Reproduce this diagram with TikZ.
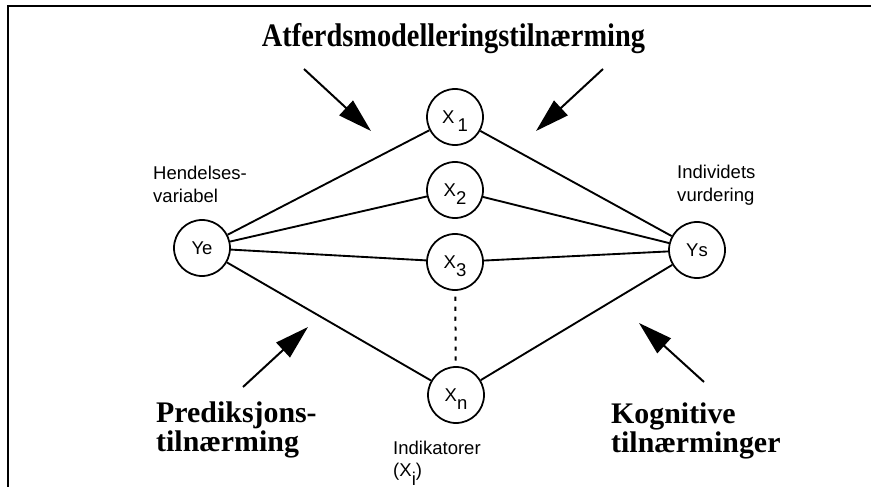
\documentclass[tikz,border=0pt]{standalone}
\usepackage{graphicx}
\usepackage{fontspec}
\setmainfont{Liberation Serif}
\setsansfont{Liberation Sans}
\usetikzlibrary{arrows.meta}
\tikzset{>={Triangle[length=29pt,width=17pt]}}
\newcommand{\sub}[1]{\raisebox{-0.45em}[0pt][0pt]{#1}}
\newcommand{\lines}[2]{\begin{tabular}[t]{@{}l@{}}#1\\#2\end{tabular}}

\begin{document}
\begin{tikzpicture}[x=0.03cm,y=-0.03cm,
    var/.style={draw,circle,line width=1.5pt,minimum size=47.8pt,inner sep=0pt,
      font=\sffamily\fontsize{15.8}{19}\selectfont},
    lab/.style={font=\sffamily\fontsize{15.8}{19.6}\selectfont,inner sep=0pt,anchor=base west},
    app/.style={font=\bfseries\fontsize{25.5}{25.6}\selectfont,inner sep=0pt,anchor=base west},
    link/.style={line width=1.6pt}]

  \useasboundingbox (0,0) rectangle (871,487);
  \draw [line width=2.4pt] (8,487) -- (8,6) -- (871,6);

  \node [inner sep=0pt,anchor=base] (title) at (453.5,47)
    {\bfseries\scalebox{0.865}[1]{\fontsize{28}{30}\selectfont Atferdsmodelleringstilnærming}};

  % variabler
  \node [var] (ye) at (202,248) {Ye};
  \node [var] (x1) at (455,117) {X\,\sub{1}};
  \node [var] (x2) at (455,190) {X\sub{2}};
  \node [var] (x3) at (455,262) {X\sub{3}};
  \node [var] (xn) at (456,395) {X\sub{n}};
  \node [var] (ys) at (697,250) {Ys};

  \foreach \x in {x1,x2,x3,xn}{
    \draw [link] (ye) -- (\x);
    \draw [link] (\x) -- (ys);
  }
  \draw [line width=1.7pt,dash pattern=on 3.5pt off 5pt,shorten <=5pt,shorten >=4pt] (x3) -- (xn);

  \node [lab] (hendelse) at (153,180) {\lines{Hendelses-}{variabel}};
  \node [lab] (individ) at (677,179) {\lines{Individets}{vurdering}};
  \node [lab] (indikator) at (393,454) {\lines{Indikatorer}{(X\sub{i})}};

  \node [app] (prediksjon) at (156,422) {\lines{Prediksjons-}{tilnærming}};
  \node [app] (kognitiv) at (611,423) {\lines{Kognitive}{tilnærminger}};

  % piler
  \coordinate (a1) at (304,69);  \coordinate (b1) at (371,131);
  \coordinate (a2) at (603,69);  \coordinate (b2) at (536,131);
  \coordinate (a3) at (243,387); \coordinate (b3) at (308,327);
  \coordinate (a4) at (704,382); \coordinate (b4) at (639,323);
  \foreach \i in {1,...,4}
    \draw [->,line width=1.7pt] (a\i) -- (b\i);
\end{tikzpicture}
\end{document}
